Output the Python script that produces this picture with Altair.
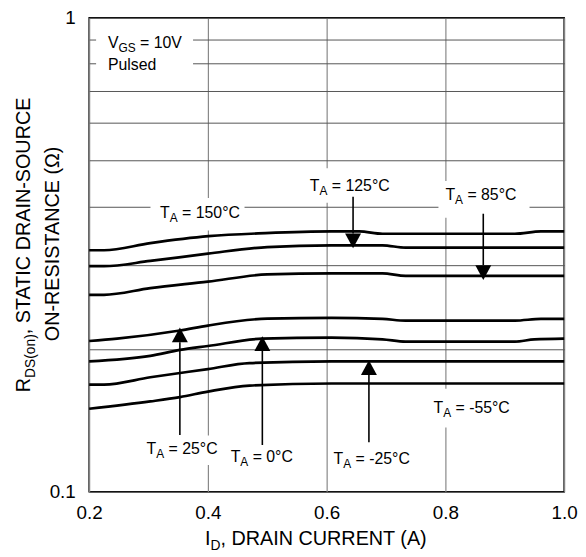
import altair as alt
import pandas as pd

FONT = "Liberation Sans"
W, H = 480, 479          # plot area in px
PXX = 0.8 / W            # data units per px (x)
DEC = 1.0 / H            # decades per px (y, log)

# ---------------- data: RDS(on) vs ID for each ambient temperature ----------------
I_150 = [0.2, 0.225, 0.303, 0.401, 0.497, 0.608, 0.655, 0.694, 0.917, 0.961, 1.0]
R_150 = [0.3232, 0.3232, 0.3347, 0.3462, 0.3513, 0.3542, 0.3542, 0.3502, 0.3502, 0.3542, 0.3542]
I_125 = [0.2, 0.225, 0.303, 0.4, 0.5, 0.608, 0.694, 0.733, 1.0]
R_125 = [0.2992, 0.2992, 0.3069, 0.318, 0.3283, 0.331, 0.331, 0.3273, 0.3273]
I_85 = [0.2, 0.225, 0.303, 0.4, 0.5, 0.608, 0.694, 0.733, 1.0]
R_85 = [0.2603, 0.2603, 0.2689, 0.2775, 0.2874, 0.2888, 0.2888, 0.2855, 0.2855]
I_25 = [0.2, 0.247, 0.353, 0.4, 0.5, 0.608, 0.694, 0.733, 0.917, 0.961, 1.0]
R_25 = [0.208, 0.2104, 0.2189, 0.2242, 0.2319, 0.2327, 0.2316, 0.2297, 0.2297, 0.2316, 0.2316]
I_0 = [0.2, 0.303, 0.353, 0.4, 0.492, 0.608, 0.694, 0.733, 0.917, 0.95, 1.0]
R_0 = [0.1884, 0.1935, 0.1992, 0.203, 0.2104, 0.2114, 0.2097, 0.2074, 0.2074, 0.2097, 0.2104]
I_m25 = [0.2, 0.225, 0.303, 0.4, 0.47, 0.608, 1.0]
R_m25 = [0.1683, 0.1683, 0.1744, 0.1815, 0.1868, 0.1884, 0.1884]
I_m55 = [0.2, 0.303, 0.353, 0.4, 0.47, 0.608, 1.0]
R_m55 = [0.1497, 0.1551, 0.1584, 0.1627, 0.1675, 0.1692, 0.1692]

curves = [("150", I_150, R_150), ("125", I_125, R_125), ("85", I_85, R_85),
          ("25", I_25, R_25), ("0", I_0, R_0), ("-25", I_m25, R_m25), ("-55", I_m55, R_m55)]

# axis ticks
X_TICKS = [0.2, 0.4, 0.6, 0.8, 1.0]
Y_GRID = [0.1, 0.2, 0.3, 0.4, 0.5, 0.6, 0.7, 0.8, 0.9, 1.0]

# annotations: label anchors (left, baseline), arrows and white label backgrounds
LAB_TEMP = ["150", "125", "85", "25", "0", "-25", "-55"]
LAB_X = [0.3195, 0.5717, 0.80, 0.2967, 0.4383, 0.6117, 0.78]
LAB_Y = [0.3787, 0.4311, 0.4129, 0.1200, 0.1155, 0.1144, 0.1469]

ARR_X = [0.6445, 0.8638, 0.3528, 0.4917, 0.6712]
ARR_TAIL = [0.419, 0.386, 0.1317, 0.1255, 0.1272]
ARR_BASE = [0.3507, 0.3006, 0.2067, 0.1982, 0.1764]
ARR_DIR = ["down", "down", "up", "up", "up"]

BOX_X1 = [0.2117, 0.3033, 0.56, 0.7883, 0.2867, 0.77]
BOX_X2 = [0.375, 0.4617, 0.7133, 0.9417, 0.42, 0.9167]
BOX_Y1 = [0.7494, 0.3558, 0.4071, 0.3787, 0.1139, 0.1367]
BOX_Y2 = [0.9531, 0.4169, 0.4817, 0.4525, 0.1315, 0.1649]

# ---------------- frames ----------------
curve_df = pd.DataFrame([{"I": i, "R": r, "T": t}
                         for t, xs, ys in curves for i, r in zip(xs, ys)])

FS, FSS = 16, 12
W_T, W_A, W_V, W_GS = 0.611 * FS, 0.667 * FSS, 0.667 * FS, (0.778 + 0.667) * FSS
W_SP = 0.278 * FS
SUB = 10 ** (-4 * DEC)

rows = []
def add_label(x, y, main, wm, sub, ws, rest):
    rows.append({"x": x, "y": y, "t": main, "fs": FS})
    rows.append({"x": x + wm * PXX, "y": y * SUB, "t": sub, "fs": FSS})
    rows.append({"x": x + (wm + ws + W_SP) * PXX, "y": y, "t": rest, "fs": FS})

for t, x, y in zip(LAB_TEMP, LAB_X, LAB_Y):
    add_label(x, y, "T", W_T, "A", W_A, "= " + t + "°C")
add_label(0.2317, 0.8617, "V", W_V, "GS", W_GS, "= 10V")
rows.append({"x": 0.2317, "y": 0.7752, "t": "Pulsed", "fs": FS})
text_df = pd.DataFrame(rows)

arrow_df = pd.DataFrame({"x": ARR_X, "tail": ARR_TAIL, "base": ARR_BASE,
                         "path": ["M-1,0L1,0L0,1.85Z" if d == "down" else "M-1,0L1,0L0,-1.85Z"
                                  for d in ARR_DIR]})
box_df = pd.DataFrame({"x1": BOX_X1, "x2": BOX_X2, "y1": BOX_Y1, "y2": BOX_Y2})

# ---------------- scales / axes ----------------
xs = alt.Scale(domain=[0.2, 1.0], nice=False, zero=False)
ys = alt.Scale(type="log", domain=[0.1, 1.0], nice=False)
xax = alt.Axis(values=X_TICKS, format=".1f", grid=True, gridColor="#888888", gridWidth=1.2,
               ticks=False, domain=False, labelFont=FONT, labelFontSize=19, labelColor="black",
               labelPadding=12, labelFlush=False, title=None)
yax = alt.Axis(values=Y_GRID, grid=True, gridColor="#555555", gridWidth=1,
               ticks=False, domain=False, labelFont=FONT, labelFontSize=19, labelColor="black",
               labelPadding=14, labelExpr="datum.value == 1 ? '1' : (datum.value == 0.1 ? '0.1' : '')",
               labelOverlap=False, title=None)

def X(f):
    return alt.X(f, type="quantitative", scale=xs, axis=xax)

def Y(f):
    return alt.Y(f, type="quantitative", scale=ys, axis=yax)

boxes = alt.Chart(box_df).mark_rect(fill="white", strokeWidth=0).encode(
    x=X("x1"), x2="x2", y=Y("y1"), y2="y2")

lines = alt.Chart(curve_df).mark_line(color="black", strokeWidth=2.7, interpolate="monotone").encode(
    x=X("I"), y=Y("R"), detail="T:N")

shafts = alt.Chart(arrow_df).mark_rule(color="black", strokeWidth=1.6).encode(
    x=X("x"), y=Y("tail"), y2="base")

heads = alt.Chart(arrow_df).mark_point(filled=True, size=260, color="black", opacity=1,
                                       strokeWidth=0).encode(
    x=X("x"), y=Y("base"), shape=alt.Shape("path:N", scale=None, legend=None))

labels = alt.Chart(text_df).mark_text(font=FONT, align="left", baseline="alphabetic",
                                      color="black").encode(
    x=X("x"), y=Y("y"), text="t:N", size=alt.Size("fs:Q", scale=None, legend=None))

# axis titles with subscripts (pixel positions relative to plot origin)
def ttl(txt, px, py, fs, angle=0, align="left"):
    return alt.Chart(pd.DataFrame({"a": [0]})).mark_text(
        text=txt, font=FONT, fontSize=fs, angle=angle, align=align,
        baseline="alphabetic", color="black").encode(x=alt.value(px), y=alt.value(py))

xt = [ttl("I", 117, 533, 20), ttl("D", 122.6, 538, 14), ttl(", DRAIN CURRENT (A)", 132.7, 533, 20)]
yt = [ttl("R", -60, 378.5, 20, 270), ttl("DS(on)", -55, 364.1, 14, 270),
      ttl(", STATIC DRAIN-SOURCE", -60, 319.8, 20, 270),
      ttl("ON-RESISTANCE (Ω)", -30, 228.5, 20, 270, "center")]

chart = alt.layer(boxes, lines, shafts, heads, labels, *xt, *yt).properties(
    width=W, height=H, autosize=alt.AutoSizeParams(type="none"),
    padding={"left": 82, "top": 7, "right": 14, "bottom": 60}
).configure_view(stroke="black", strokeWidth=1.5)

chart.save("out.html", embed_options={"renderer": "svg", "actions": False})
